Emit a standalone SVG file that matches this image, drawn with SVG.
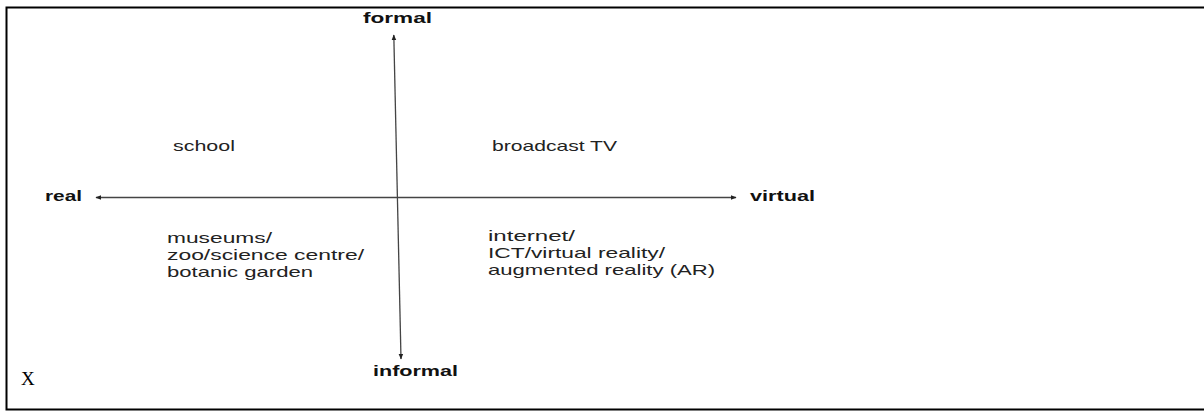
<svg xmlns="http://www.w3.org/2000/svg" width="1204" height="411" viewBox="0 0 1204 411">
<style>
.lbl{font-family:"Liberation Sans",Arial,sans-serif;font-size:14.5px;fill:#222}
.ax{font-family:"Liberation Sans",Arial,sans-serif;font-size:14.5px;font-weight:bold;fill:#111}
.line{stroke:#444;stroke-width:1.3;fill:none}
</style>
<defs>
<marker id="arr" viewBox="0 0 10 10" refX="9" refY="5" markerWidth="6" markerHeight="6" orient="auto-start-reverse" markerUnits="userSpaceOnUse">
<path d="M0,1 L10,5 L0,9 Z" fill="#222"/>
</marker>
</defs>
<rect x="0" y="0" width="1204" height="411" fill="#fff"/>
<path d="M1204,7.5 H6.5 V409.5 H1204" fill="none" stroke="#000" stroke-width="2"/>
<g id="connectors">
<line class="line" x1="393.8" y1="35" x2="401" y2="359" marker-start="url(#arr)" marker-end="url(#arr)"/>
<line class="line" x1="96" y1="197.5" x2="736" y2="197.5" marker-start="url(#arr)" marker-end="url(#arr)"/>
</g>
<g id="formal"><text class="ax" x="363" y="23" textLength="69" lengthAdjust="spacingAndGlyphs">formal</text></g>
<g id="informal"><text class="ax" x="373" y="376" textLength="85" lengthAdjust="spacingAndGlyphs">informal</text></g>
<g id="real"><text class="ax" x="45" y="201" textLength="37" lengthAdjust="spacingAndGlyphs">real</text></g>
<g id="virtual"><text class="ax" x="750" y="201" textLength="65" lengthAdjust="spacingAndGlyphs">virtual</text></g>
<g id="school"><text class="lbl" x="173" y="151" textLength="62" lengthAdjust="spacingAndGlyphs">school</text></g>
<g id="broadcast"><text class="lbl" x="492" y="151" textLength="125" lengthAdjust="spacingAndGlyphs">broadcast TV</text></g>
<g id="museums">
<text class="lbl" x="167" y="243" textLength="105" lengthAdjust="spacingAndGlyphs">museums/</text>
<text class="lbl" x="167" y="260" textLength="197" lengthAdjust="spacingAndGlyphs">zoo/science centre/</text>
<text class="lbl" x="167" y="277" textLength="146" lengthAdjust="spacingAndGlyphs">botanic garden</text>
</g>
<g id="internet">
<text class="lbl" x="488" y="241" textLength="87" lengthAdjust="spacingAndGlyphs">internet/</text>
<text class="lbl" x="488" y="258" textLength="177" lengthAdjust="spacingAndGlyphs">ICT/virtual reality/</text>
<text class="lbl" x="488" y="275" textLength="227" lengthAdjust="spacingAndGlyphs">augmented reality (AR)</text>
</g>
<g id="x-label"><text x="21" y="385" font-family="Liberation Serif,serif" font-size="19" fill="#000">X</text></g>
</svg>
